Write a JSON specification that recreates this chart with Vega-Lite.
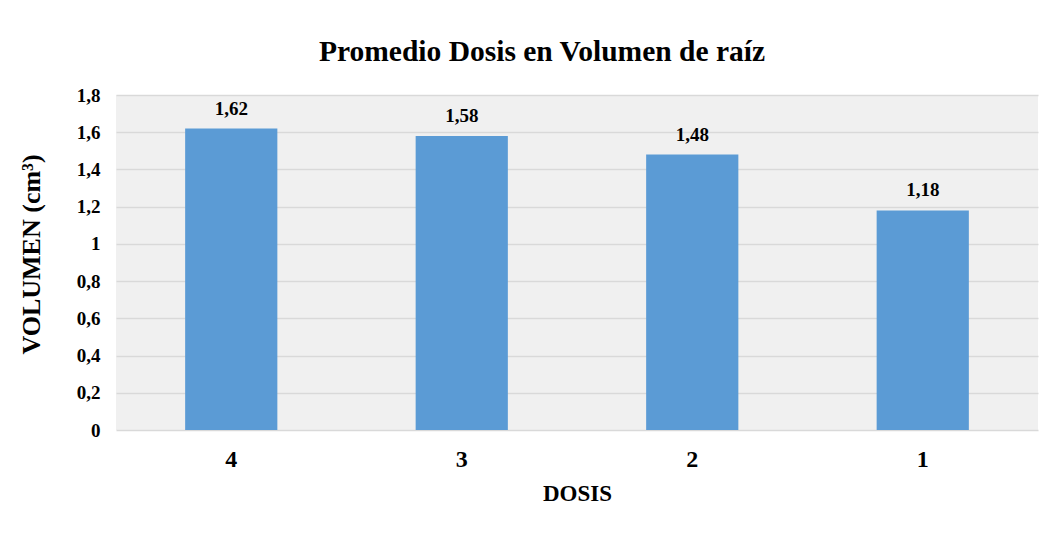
{
  "$schema": "https://vega.github.io/schema/vega-lite/v6.json",
  "width": 922,
  "height": 335,
  "autosize": {"type": "none"},
  "padding": {"left": 116, "top": 95, "right": 22, "bottom": 103},
  "background": "white",
  "title": {
    "text": "Promedio Dosis en Volumen de raíz",
    "font": "Liberation Serif",
    "fontSize": 29.5,
    "fontWeight": "bold",
    "color": "#000000",
    "anchor": "middle",
    "frame": "group",
    "baseline": "alphabetic",
    "dx": -35,
    "offset": -4
  },
  "data": {
    "values": [
      {"DOSIS": "4", "VOLUMEN": 1.62},
      {"DOSIS": "3", "VOLUMEN": 1.58},
      {"DOSIS": "2", "VOLUMEN": 1.48},
      {"DOSIS": "1", "VOLUMEN": 1.18}
    ]
  },
  "encoding": {
    "x": {
      "field": "DOSIS",
      "type": "nominal",
      "sort": null,
      "scale": {"paddingInner": 0.6, "paddingOuter": 0.3},
      "axis": {
        "title": "DOSIS",
        "labelAngle": 0,
        "labelFont": "Liberation Serif",
        "labelFontSize": 24,
        "labelFontWeight": "bold",
        "labelColor": "#000000",
        "labelPadding": 17,
        "ticks": false,
        "domain": false,
        "titleFont": "Liberation Serif",
        "titleFontSize": 23,
        "titleFontWeight": "bold",
        "titleColor": "#000000",
        "titlePadding": 11
      }
    },
    "y": {
      "field": "VOLUMEN",
      "type": "quantitative",
      "scale": {"domain": [0, 1.8]},
      "axis": {
        "title": "VOLUMEN (cm³)",
        "values": [0, 0.2, 0.4, 0.6, 0.8, 1, 1.2, 1.4, 1.6, 1.8],
        "format": "~g",
        "labelFont": "Liberation Serif",
        "labelFontSize": 19,
        "labelFontWeight": "bold",
        "labelColor": "#000000",
        "labelPadding": 16,
        "ticks": false,
        "domain": false,
        "grid": true,
        "gridColor": "#d9d9d9",
        "gridWidth": 1.5,
        "titleFont": "Liberation Serif",
        "titleFontSize": 26,
        "titleFontWeight": "bold",
        "titleColor": "#000000",
        "titlePadding": 32,
        "titleY": 159
      }
    }
  },
  "layer": [
    {
      "mark": {"type": "bar", "color": "#5b9bd5"}
    },
    {
      "mark": {
        "type": "text",
        "baseline": "alphabetic",
        "dy": -14,
        "font": "Liberation Serif",
        "fontSize": 19,
        "fontWeight": "bold",
        "color": "#000000"
      },
      "encoding": {
        "text": {"field": "VOLUMEN", "type": "quantitative", "format": ".2f"}
      }
    }
  ],
  "config": {
    "locale": {
      "number": {"decimal": ",", "thousands": ".", "grouping": [3], "currency": ["", " €"]}
    },
    "view": {"fill": "#f0f0f0", "stroke": null}
  }
}
